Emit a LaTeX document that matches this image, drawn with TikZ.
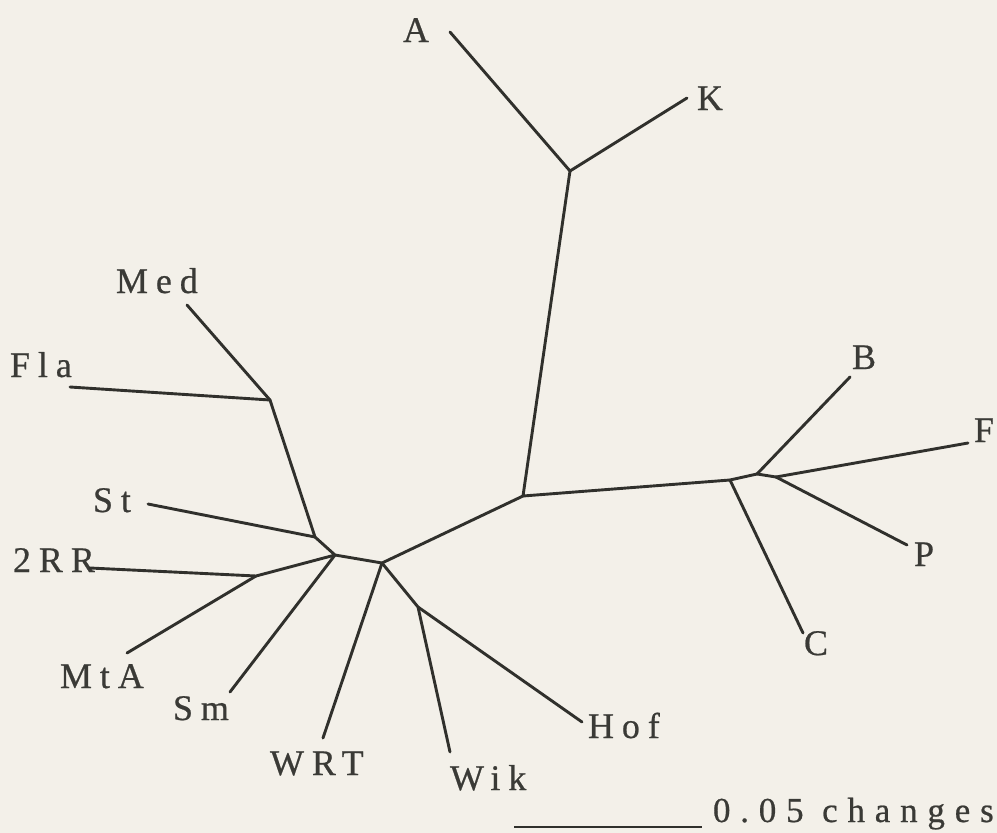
\documentclass[tikz,border=0pt]{standalone}
\usepackage{fontspec}
\setmainfont{Liberation Serif}
\newfontfamily\labfont{Liberation Serif}[LetterSpace=22,FakeBold=0.6]
\newfontfamily\scalefont{Liberation Serif}[LetterSpace=28,FakeBold=0.6]
\definecolor{paper}{RGB}{243,240,233}
\definecolor{ink}{RGB}{48,48,44}
\definecolor{txt}{RGB}{58,58,54}
\tikzset{
  branch/.style={draw=ink, line width=2.9pt, line cap=round, line join=round},
  leaflabel/.style={anchor=base west, inner sep=0pt, outer sep=0pt, text=txt,
    font=\labfont\fontsize{36}{40}\selectfont},
}
\begin{document}
\begin{tikzpicture}[x=1pt,y=-1pt]
\useasboundingbox (0,0) rectangle (997,833);
\fill[paper] (0,0) rectangle (997,833);
% internal nodes
\coordinate (ak) at (570,171);
\coordinate (root) at (523,496);
\coordinate (cn) at (730,480);
\coordinate (bn) at (757,474);
\coordinate (fpn) at (776,477);
\coordinate (n1) at (382,563);
\coordinate (n2) at (335,555);
\coordinate (stn) at (315,537);
\coordinate (fmn) at (270,400);
\coordinate (rmn) at (256,576);
\coordinate (hwn) at (418,607);
% leaf tips
\coordinate (tA) at (450,32);
\coordinate (tK) at (687,98);
\coordinate (tB) at (850,377);
\coordinate (tF) at (968,443);
\coordinate (tP) at (907,545);
\coordinate (tC) at (803,633);
\coordinate (tMed) at (187,305);
\coordinate (tFla) at (70,387);
\coordinate (tSt) at (148,504);
\coordinate (tRR) at (90,568);
\coordinate (tMtA) at (127,653);
\coordinate (tSm) at (230,692);
\coordinate (tWRT) at (323,738);
\coordinate (tWik) at (450,752);
\coordinate (tHof) at (582,722);
% labels
\node[leaflabel] (lA) at (403,42) {A};
\node[leaflabel] (lK) at (697,110) {K};
\node[leaflabel] (lB) at (852,369) {B};
\node[leaflabel] (lF) at (974,442) {F};
\node[leaflabel] (lP) at (914,566) {P};
\node[leaflabel] (lC) at (804,655) {C};
\node[leaflabel] (lMed) at (116,293) {Med};
\node[leaflabel] (lFla) at (10,377) {Fla};
\node[leaflabel] (lSt) at (93,512) {St};
\node[leaflabel] (lRR) at (13,572) {2RR};
\node[leaflabel] (lMtA) at (60,688) {MtA};
\node[leaflabel] (lSm) at (173,720) {Sm};
\node[leaflabel] (lWRT) at (270,775) {WRT};
\node[leaflabel] (lWik) at (450,790) {Wik};
\node[leaflabel] (lHof) at (588,738) {Hof};
% branches
\draw[branch] (tA) -- (ak) -- (tK);
\draw[branch] (ak) -- (root) -- (cn) -- (bn) -- (fpn);
\draw[branch] (bn) -- (tB);
\draw[branch] (fpn) -- (tF);
\draw[branch] (fpn) -- (tP);
\draw[branch] (cn) -- (tC);
\draw[branch] (root) -- (n1) -- (n2) -- (stn) -- (fmn);
\draw[branch] (fmn) -- (tMed);
\draw[branch] (fmn) -- (tFla);
\draw[branch] (stn) -- (tSt);
\draw[branch] (n2) -- (rmn) -- (tRR);
\draw[branch] (rmn) -- (tMtA);
\draw[branch] (n2) -- (tSm);
\draw[branch] (n1) -- (tWRT);
\draw[branch] (n1) -- (hwn) -- (tWik);
\draw[branch] (hwn) -- (tHof);
% scale bar
\coordinate (sb1) at (514,827);
\coordinate (sb2) at (702,827);
\draw[branch, line cap=butt] (sb1) -- (sb2);
\node[leaflabel, font=\scalefont\fontsize{35}{40}\selectfont] (lscale) at (713,822) {0.05 changes};
\end{tikzpicture}
\end{document}
